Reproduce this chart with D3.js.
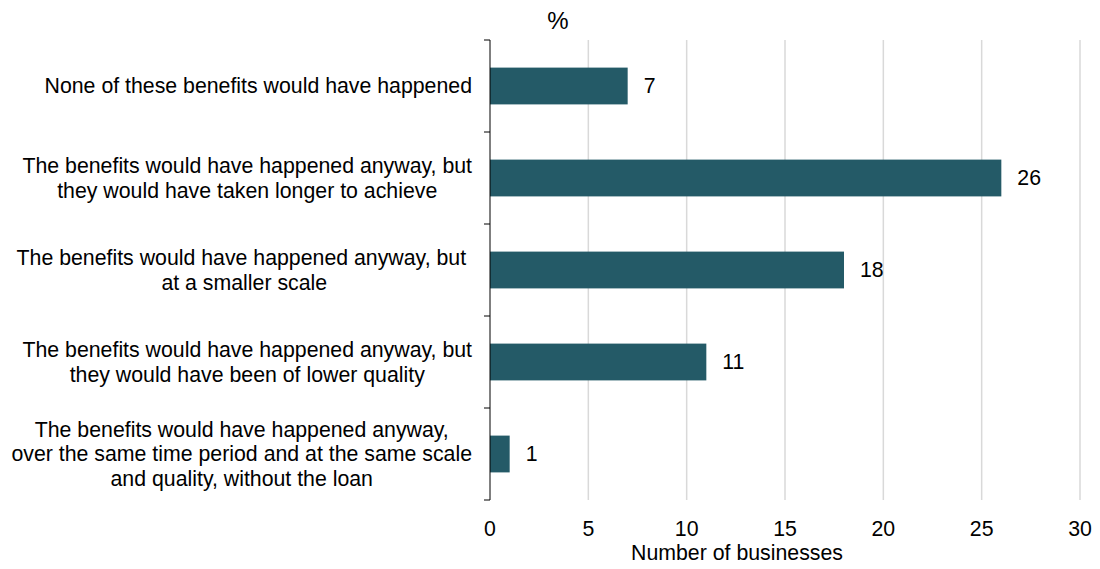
<!DOCTYPE html>
<html>
<head>
<meta charset="utf-8">
<script src="https://cdn.jsdelivr.net/npm/d3@7"></script>
<style>
  body { margin: 0; background: #fff; }
  svg { font-family: "Liberation Sans", Arial, sans-serif; }
</style>
</head>
<body>
<svg id="svg"></svg>
<script>
// categories, each one a list of label lines
let categories = [
    ["None of these benefits would have happened"],
    ["The benefits would have happened anyway, but", "they would have taken longer to achieve"],
    ["The benefits would have happened anyway, but ", "at a smaller scale"],
    ["The benefits would have happened anyway, but", "they would have been of lower quality"],
    ["The benefits would have happened anyway,", "over the same time period and at the same scale", "and quality, without the loan"]
];
let values = [7, 26, 18, 11, 1];
let xTicks = [0, 5, 10, 15, 20, 25, 30];

let width = 1100, height = 569;
let margin = {top: 40, right: 20, bottom: 69, left: 490};
let fontSize = 21.3;

let svg = d3.select("#svg").attr("width", width).attr("height", height);

let x = d3.scaleLinear().domain([0, 30]).range([margin.left, width - margin.right]);
let y = d3.scaleBand()
    .domain(d3.range(categories.length))
    .range([margin.top, height - margin.bottom])
    .paddingInner(0.6).paddingOuter(0.3);

// gridlines
svg.append('g').selectAll('line')
    .data(xTicks.filter(d => d > 0))
    .join('line')
    .attr('x1', d => x(d)).attr('x2', d => x(d))
    .attr('y1', margin.top).attr('y2', height - margin.bottom)
    .attr('stroke', '#d9d9d9')
    .attr('stroke-width', 1.5);

// bars
svg.append('g').selectAll('rect')
    .data(values)
    .join('rect')
    .attr('x', x(0))
    .attr('y', (d, i) => y(i))
    .attr('width', d => x(d) - x(0))
    .attr('height', y.bandwidth())
    .attr('fill', '#245a67');

// value labels
svg.append('g').selectAll('text')
    .data(values)
    .join('text')
    .attr('x', d => x(d) + 16)
    .attr('y', (d, i) => y(i) + y.bandwidth() / 2)
    .attr('dy', '0.35em')
    .attr('font-size', fontSize)
    .attr('fill', '#000')
    .text(d => d);

// y axis with ticks at band edges
let step = y.step();
let edges = d3.range(categories.length + 1).map(i => margin.top + i * step);
let yAxisG = svg.append('g');
yAxisG.append('line')
    .attr('x1', x(0)).attr('x2', x(0))
    .attr('y1', margin.top).attr('y2', height - margin.bottom)
    .attr('stroke', '#000').attr('stroke-width', 1);
yAxisG.selectAll('line.tick')
    .data(edges)
    .join('line')
    .attr('class', 'tick')
    .attr('x1', x(0) - 6).attr('x2', x(0))
    .attr('y1', d => d).attr('y2', d => d)
    .attr('stroke', '#000').attr('stroke-width', 1);

// category labels: lines centred within a block whose right edge sits at 472
let lineH = 24.5;
let labelG = svg.append('g');
categories.forEach(function(lines, i) {
    let cy = y(i) + y.bandwidth() / 2;
    let t = labelG.append('text')
        .attr('font-size', fontSize)
        .attr('fill', '#000')
        .attr('text-anchor', 'middle');
    lines.forEach(function(l, j) {
        t.append('tspan')
            .attr('x', 0)
            .attr('y', cy + (j - (lines.length - 1) / 2) * lineH)
            .attr('dy', '0.35em')
            .text(l);
    });
    let w = d3.max(t.selectAll('tspan').nodes(), n => n.getComputedTextLength());
    t.selectAll('tspan').attr('x', 472 - w / 2);
});

// x tick labels
svg.append('g').selectAll('text')
    .data(xTicks)
    .join('text')
    .attr('x', d => x(d))
    .attr('y', 536)
    .attr('text-anchor', 'middle')
    .attr('font-size', fontSize)
    .text(d => d);

// axis title and unit
svg.append('text')
    .attr('x', 737).attr('y', 560)
    .attr('text-anchor', 'middle')
    .attr('font-size', fontSize)
    .text('Number of businesses');

svg.append('text')
    .attr('x', 558).attr('y', 29)
    .attr('text-anchor', 'middle')
    .attr('font-size', 24)
    .text('%');
</script>
</body>
</html>
